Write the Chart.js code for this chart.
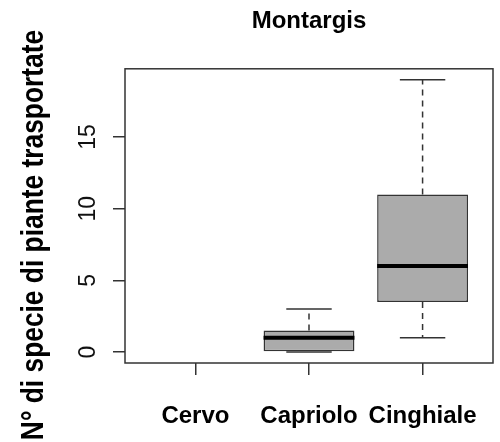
<!DOCTYPE html>
<html>
<head>
<meta charset="utf-8">
<script src="https://cdn.jsdelivr.net/npm/chart.js@4/dist/chart.umd.min.js"></script>
<style>
  body { margin: 0; background: #fff; }
  #wrap { width: 500px; height: 442px; }
</style>
</head>
<body>
<div id="wrap"><canvas id="chart"></canvas></div>
<script>
// dati del boxplot
const categories = ['Cervo', 'Capriolo', 'Cinghiale'];
const positions = [1, 2, 3];
const whiskerLow = [null, 0, 1];
const lowerQuartile = [null, 0, 3.5];
const medians = [null, 1, 6];
const upperQuartile = [null, 1.5, 11];
const whiskerHigh = [null, 3, 19];
const yTickValues = [0, 5, 10, 15];

const chartTitle = 'Montargis';
const yTitle = 'N° di specie di piante trasportate';

const LINE = '#333333';
const SANS = "'Liberation Sans', Arial, sans-serif";

// baffi, cappucci e mediane disegnati con le scale del grafico
const boxExtras = {
    id: 'boxExtras',
    afterDatasetsDraw(chart) {
        const { ctx, scales: { x, y } } = chart;
        const meta = chart.getDatasetMeta(0);
        ctx.save();
        positions.forEach((pos, i) => {
            if (medians[i] === null) return;
            const cx = x.getPixelForValue(pos);
            const w = meta.data[i].width;

            // baffi tratteggiati
            ctx.strokeStyle = LINE;
            ctx.lineWidth = 1.5;
            ctx.setLineDash([6, 5]);
            ctx.beginPath();
            ctx.moveTo(cx, y.getPixelForValue(upperQuartile[i]));
            ctx.lineTo(cx, y.getPixelForValue(whiskerHigh[i]));
            ctx.moveTo(cx, y.getPixelForValue(lowerQuartile[i]));
            ctx.lineTo(cx, y.getPixelForValue(whiskerLow[i]));
            ctx.stroke();

            // cappucci
            ctx.setLineDash([]);
            ctx.beginPath();
            [whiskerHigh[i], whiskerLow[i]].forEach(v => {
                const py = y.getPixelForValue(v);
                ctx.moveTo(cx - w / 4, py);
                ctx.lineTo(cx + w / 4, py);
            });
            ctx.stroke();

            // mediana
            ctx.strokeStyle = '#000';
            ctx.lineWidth = 4;
            ctx.beginPath();
            const my = y.getPixelForValue(medians[i]);
            ctx.moveTo(cx - w / 2, my);
            ctx.lineTo(cx + w / 2, my);
            ctx.stroke();
        });

        // cornice del grafico
        const a = chart.chartArea;
        ctx.strokeStyle = LINE;
        ctx.lineWidth = 1.5;
        ctx.strokeRect(a.left, a.top, a.right - a.left, a.bottom - a.top);
        ctx.restore();
    },
    afterDraw(chart) {
        // titolo asse y, ruotato e stretto
        const { ctx } = chart;
        ctx.save();
        ctx.translate(43, 235);
        ctx.rotate(-Math.PI / 2);
        ctx.scale(0.85, 1);
        ctx.font = 'bold 31px ' + SANS;
        ctx.fillStyle = '#000';
        ctx.textAlign = 'center';
        ctx.textBaseline = 'alphabetic';
        ctx.fillText(yTitle, 0, 0);
        ctx.restore();
    }
};

new Chart(document.getElementById('chart'), {
    type: 'bar',
    data: {
        datasets: [{
            data: positions.map((p, i) => ({
                x: p,
                y: lowerQuartile[i] === null ? null : [lowerQuartile[i], upperQuartile[i]]
            })),
            backgroundColor: '#ababab',
            borderColor: LINE,
            borderWidth: 1.5,
            borderSkipped: false,
            categoryPercentage: 1,
            barPercentage: 0.8
        }]
    },
    options: {
        responsive: true,
        maintainAspectRatio: false,
        animation: false,
        layout: { padding: { left: 0, right: 7, top: 0, bottom: 0 } },
        plugins: {
            legend: { display: false },
            tooltip: { enabled: false },
            title: {
                display: true,
                text: chartTitle,
                fullSize: false,
                color: '#000',
                font: { family: SANS, size: 24, weight: 'bold' },
                padding: { top: 7, bottom: 33 }
            }
        },
        scales: {
            x: {
                type: 'linear',
                min: 0.38,
                max: 3.62,
                offset: false,
                afterBuildTicks: s => { s.ticks = positions.map(v => ({ value: v })); },
                afterFit: s => { s.height = 79; s.paddingLeft = 0; s.paddingRight = 0; },
                border: { display: false },
                grid: { offset: false, drawOnChartArea: false, drawTicks: true, tickLength: 12, color: LINE, lineWidth: 1.5 },
                ticks: {
                    callback: (v) => categories[positions.indexOf(v)],
                    color: '#000',
                    padding: 27,
                    maxRotation: 0,
                    autoSkip: false,
                    font: { family: SANS, size: 24, weight: 'bold' }
                }
            },
            y: {
                min: -0.76,
                max: 19.76,
                afterBuildTicks: s => { s.ticks = yTickValues.map(v => ({ value: v })); },
                afterFit: s => { s.width = 125; },
                border: { display: false },
                grid: { drawOnChartArea: false, drawTicks: true, tickLength: 12, color: LINE, lineWidth: 1.5 },
                ticks: {
                    color: '#111',
                    minRotation: 90,
                    maxRotation: 90,
                    crossAlign: 'center',
                    padding: 12,
                    font: { family: SANS, size: 23 }
                }
            }
        }
    },
    plugins: [boxExtras]
});
</script>
</body>
</html>
